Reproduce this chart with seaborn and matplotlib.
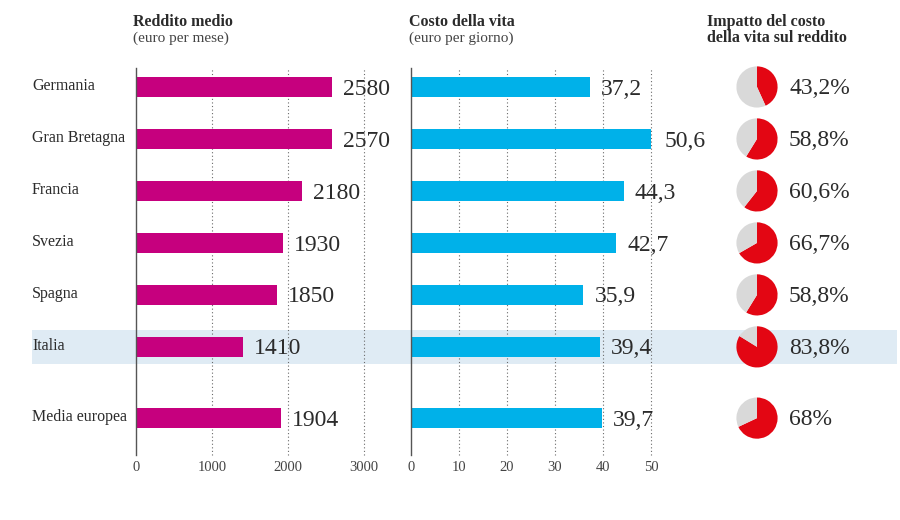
import matplotlib.pyplot as plt
import seaborn as sns
from matplotlib.patches import Rectangle

# dati
paesi = ["Germania", "Gran Bretagna", "Francia", "Svezia", "Spagna", "Italia", "Media europea"]
reddito = [2580, 2570, 2180, 1930, 1850, 1410, 1904]      # euro per mese
costo = [37.2, 50.6, 44.3, 42.7, 35.9, 39.4, 39.7]        # euro per giorno
impatto = [43.2, 58.8, 60.6, 66.7, 58.8, 83.8, 68]        # percentuale
tick_reddito = [0, 1000, 2000, 3000]
tick_costo = [0, 10, 20, 30, 40, 50]
evidenziato = "Italia"

# stile
MAGENTA = "#c6007e"
CIANO = "#00b1e9"
ROSSO = "#e30613"
GRIGIO = "#d9d9d9"
FASCIA = "#dfebf4"
TESTO = "#2b2b2b"

W, H = 900, 520
posizioni = list(range(6)) + [6.37]   # la media europea sta un po' staccata
YLIM = (7.08, -0.365)


def rect(x0, y0, x1, y1):
    # box in pixel (origine in alto a sinistra) -> rect della figura
    return [x0 / W, 1 - y1 / H, (x1 - x0) / W, (y1 - y0) / H]


def it(v):
    return f"{v:g}".replace(".", ",")


def pannello(ax, valori, colore, ticks):
    sns.barplot(x=valori, y=posizioni, orient="y", native_scale=True, width=0.38,
                color=colore, saturation=1, linewidth=0, ax=ax)
    ax.set_xlim(ticks[0], ticks[-1])
    ax.set_ylim(*YLIM)
    ax.set_xticks(ticks)
    ax.set_xticklabels([str(t) for t in ticks])
    ax.set_yticks([])
    ax.set_xlabel("")
    ax.set_ylabel("")
    for t in ticks[1:]:
        ax.axvline(t, color="#6a6a6a", lw=0.8, ls=(0, (1, 2.2)), zorder=0, clip_on=False)
    for s in ["top", "right", "bottom"]:
        ax.spines[s].set_visible(False)
    ax.spines["left"].set_color("#555555")
    ax.spines["left"].set_linewidth(1)
    ax.tick_params(axis="x", length=0, pad=4, labelsize=10.5, labelcolor="#444444")
    ax.patch.set_alpha(0)
    for v, y in zip(valori, posizioni):
        ax.annotate(it(v), (v, y), xytext=(8, -1.5), textcoords="offset points",
                    ha="left", va="center", fontsize=17, color=TESTO,
                    annotation_clip=False)


sns.set_theme(style="white")
plt.rcParams["font.family"] = ["Liberation Serif", "DejaVu Serif"]

fig = plt.figure(figsize=(9, 5.2), dpi=100)
fig.patch.set_facecolor("white")

ax1 = fig.add_axes(rect(136, 68, 364.3, 455))
ax2 = fig.add_axes(rect(411, 68, 651, 455))
pannello(ax1, reddito, MAGENTA, tick_reddito)
pannello(ax2, costo, CIANO, tick_costo)

# titoli
fig.text(133 / W, 1 - 22 / H, "Reddito medio", fontsize=11.5, weight="bold", color=TESTO, va="center")
fig.text(133 / W, 1 - 38 / H, "(euro per mese)", fontsize=11, color="#444444", va="center")
fig.text(409 / W, 1 - 22 / H, "Costo della vita", fontsize=11.5, weight="bold", color=TESTO, va="center")
fig.text(409 / W, 1 - 38 / H, "(euro per giorno)", fontsize=11, color="#444444", va="center")
fig.text(707 / W, 1 - 30 / H, "Impatto del costo\ndella vita sul reddito", fontsize=11.5,
         weight="bold", color=TESTO, va="center", linespacing=1.0)

# righe: etichette, torte, fascia evidenziata
for nome, p, y in zip(paesi, posizioni, impatto):
    yd = ax1.transData.transform((0, p))[1]
    fig.text(32 / W, (yd + 1) / H, nome, fontsize=11.5, color=TESTO, va="center")
    if nome == evidenziato:
        fig.add_artist(Rectangle((32 / W, (yd - 17) / H), 865 / W, 34 / H,
                                 transform=fig.transFigure, color=FASCIA, zorder=-1, lw=0))
    axp = fig.add_axes([(757 - 21) / W, (yd - 21) / H, 42 / W, 42 / H])
    axp.pie([y, 100 - y], colors=[ROSSO, GRIGIO], startangle=90, counterclock=False,
            wedgeprops=dict(linewidth=0))
    axp.set_xlim(-1.02, 1.02)
    axp.set_ylim(-1.02, 1.02)
    axp.patch.set_alpha(0)
    fig.text(789 / W, (yd - 1.5) / H, it(y) + "%", fontsize=17, color=TESTO, va="center")

fig.savefig("out.png", dpi=100)
